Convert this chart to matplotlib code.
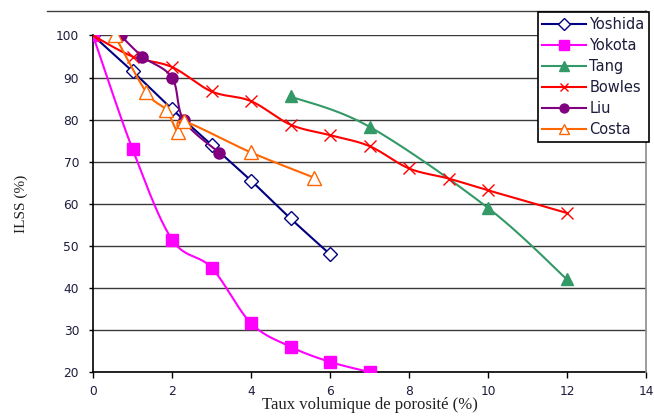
import numpy as np
import matplotlib
matplotlib.use("Agg")
import matplotlib.pyplot as plt
from matplotlib.lines import Line2D

# ---- data ----
yoshida_x = [0, 1, 2, 3, 4, 5, 6]
yoshida_y = [100, 91.5, 82.5, 74, 65.5, 56.5, 48]
yokota_x = [0, 1, 2, 3, 4, 5, 6, 7]
yokota_y = [100, 73, 51.5, 44.8, 31.6, 26, 22.4, 20]
tang_x = [5, 7, 10, 12]
tang_y = [85.5, 78.3, 59, 42]
bowles_x = [0, 1, 2, 3, 4, 5, 6, 7, 8, 9, 10, 12]
bowles_y = [100, 95, 92.5, 86.7, 84.4, 78.8, 76.3, 73.7, 68.4, 66, 63.2, 57.8]
liu_x = [0.7, 1.25, 2, 2.3, 3.2]
liu_y = [100, 95, 90, 79.8, 72.1]
costa_x = [0.55, 1.35, 1.85, 2.15, 2.3, 4, 5.6]
costa_y = [100, 86.5, 82.3, 77, 79.6, 72.2, 66.2]

x_ticks = [0, 2, 4, 6, 8, 10, 12, 14]
y_ticks = [20, 30, 40, 50, 60, 70, 80, 90, 100]
xlabel = "Taux volumique de porosité (%)"
ylabel = "ILSS (%)"


def smooth(xs, ys, n=24):
    p = np.column_stack([xs, ys]).astype(float)
    if len(p) < 3:
        return p[:, 0], p[:, 1]
    out = [p[0]]
    t = np.linspace(0, 1, n)[1:]
    for i in range(len(p) - 1):
        p0 = p[i - 1] if i > 0 else p[i]
        p1 = p[i]
        p2 = p[i + 1]
        p3 = p[i + 2] if i + 2 < len(p) else p[i + 1]
        c1 = p1 + (p2 - p0) / 6.0
        c2 = p2 - (p3 - p1) / 6.0
        for tt in t:
            b = ((1 - tt) ** 3) * p1 + 3 * ((1 - tt) ** 2) * tt * c1 + 3 * (1 - tt) * tt ** 2 * c2 + tt ** 3 * p2
            out.append(b)
    out = np.array(out)
    return out[:, 0], out[:, 1]


W, H = 654, 419
fig = plt.figure(figsize=(W / 100, H / 100), dpi=100)
fig.patch.set_facecolor("white")
L, R, B, T = 93, 646, 372, 35.5
ax = fig.add_axes([L / W, 1 - B / H, (R - L) / W, (B - T) / H])

series = [
    ("Yoshida", yoshida_x, yoshida_y, "#000080", dict(marker="D", ms=7.2, mfc="white", mec="#000080", mew=1.0)),
    ("Yokota", yokota_x, yokota_y, "#FF00FF", dict(marker="s", ms=9, mfc="#FF00FF", mec="#FF00FF")),
    ("Tang", tang_x, tang_y, "#339966", dict(marker="^", ms=9, mfc="#339966", mec="#339966")),
    ("Bowles", bowles_x, bowles_y, "#FF0000", dict(marker="x", ms=8, mec="#FF0000", mew=1.0)),
    ("Liu", liu_x, liu_y, "#800080", dict(marker="o", ms=8, mfc="#800080", mec="#800080")),
    ("Costa", costa_x, costa_y, "#FF6600", dict(marker="^", ms=9.5, mfc="white", mec="#FF6600", mew=1.0)),
]

handles = []
for i, (name, xs, ys, col, mk) in enumerate(series):
    sx, sy = smooth(xs, ys)
    ax.plot(sx, sy, color=col, lw=1.5, zorder=3 + i, solid_capstyle="round")
    ax.plot(xs, ys, ls="none", zorder=3 + i, **mk)
    mk_leg = dict(mk)
    mk_leg["ms"] = mk["ms"] * 0.8
    handles.append(Line2D([0], [0], color=col, lw=1.5, **mk_leg))

ax.set_xlim(0, 14)
ax.set_ylim(20, 100)
ax.set_xticks(x_ticks)
ax.set_yticks(y_ticks)
ax.grid(axis="y", color="#3a3a3a", lw=1.0, zorder=1)
ax.set_axisbelow(True)
for s in ["top", "right"]:
    ax.spines[s].set_visible(False)
for s in ["left", "bottom"]:
    ax.spines[s].set_color("black")
    ax.spines[s].set_linewidth(1.2)
    ax.spines[s].set_zorder(2)
ax.tick_params(axis="x", direction="out", length=4, width=1, colors="black", pad=5,
               labelsize=8.8, labelcolor="#1c1c3c")
ax.tick_params(axis="y", direction="out", length=3, width=1, colors="black", pad=7,
               labelsize=8.8, labelcolor="#1c1c3c")
for lab in ax.get_xticklabels() + ax.get_yticklabels():
    lab.set_family("DejaVu Sans")

ax.set_xlabel(xlabel, family="Liberation Serif", fontsize=12, color="#222222")
ax.xaxis.set_label_coords(0.5, -0.097)
ax.xaxis.label.set_va("center")
ax.set_ylabel(ylabel, family="Liberation Serif", fontsize=11, color="#222222")
ax.yaxis.set_label_coords(-0.13, 0.5)
ax.yaxis.label.set_va("center")

# outer frame lines (chart border)
fig.add_artist(Line2D([47 / W, R / W], [1 - 11 / H, 1 - 11 / H], color="#404040", lw=1.0,
                      transform=fig.transFigure))
fig.add_artist(Line2D([R / W, R / W], [1 - 11 / H, 1 - B / H], color="#8a8a8a", lw=1.2,
                      transform=fig.transFigure))

leg = fig.legend(handles, [s[0] for s in series], loc="upper right",
                 bbox_to_anchor=(649 / W, 1 - 12.5 / H), bbox_transform=fig.transFigure,
                 frameon=True, fancybox=False, framealpha=1, edgecolor="black",
                 prop={"family": "DejaVu Sans", "size": 10.5}, handlelength=3.0,
                 handletextpad=0.25, labelspacing=0.42, borderpad=0.3, borderaxespad=0)
leg.get_frame().set_linewidth(1.2)
for t in leg.get_texts():
    t.set_color("#1c1c3c")

fig.savefig("out.png", dpi=100, facecolor="white")
